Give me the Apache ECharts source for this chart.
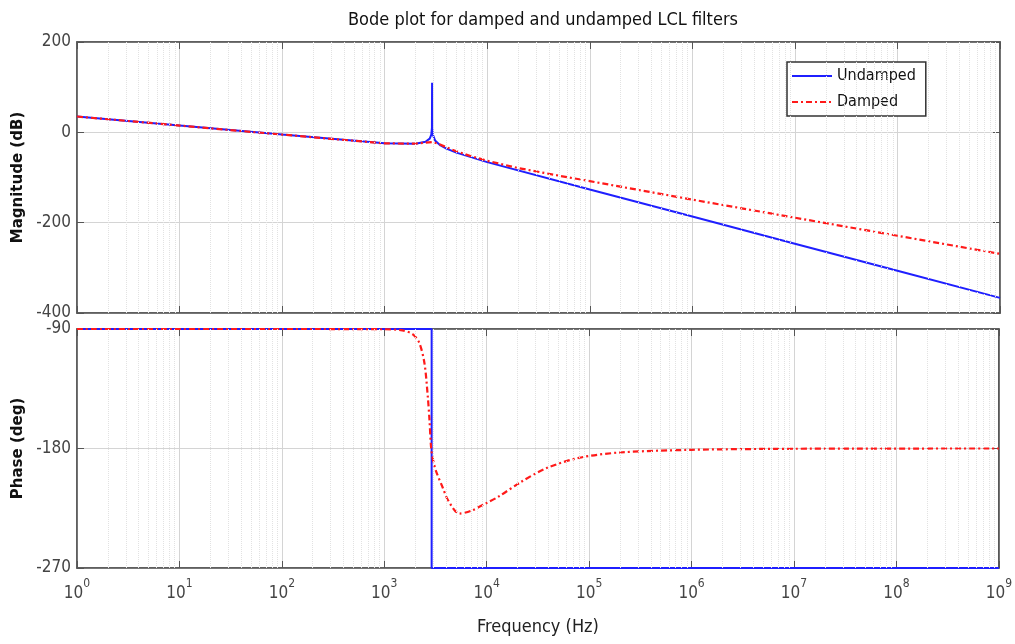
<!DOCTYPE html>
<html>
<head>
<meta charset="utf-8">
<script src="https://cdn.jsdelivr.net/npm/echarts@6/dist/echarts.min.js"></script>
<style>
  html, body { margin: 0; padding: 0; background: #fff; }
  #chart { width: 1015px; height: 644px; }
</style>
</head>
<body>
<div id="chart"></div>
<script>
// magnitude (dB), undamped
const magUndampedFreq = [1, 10, 100, 1000, 2000, 2500, 2750, 2850, 2890, 2900, 2910, 2950, 3100, 3500, 4000, 5000, 1e4, 1e5, 1e6, 1e7, 1e8, 1e9]
const magUndamped = [35, 15, -5, -24, -25.5, -21, -14, -5, 10, 110, 10, -5, -18, -29, -36, -45, -66, -126.5, -186.5, -246.5, -306.5, -366.5]

// magnitude (dB), damped
const magDampedFreq = [1, 10, 100, 1000, 2000, 2500, 2900, 3300, 4000, 5000, 7000, 1e4, 2e4, 5e4, 1e5, 1e6, 1e7, 1e8, 1e9]
const magDamped = [35, 15, -5, -24.5, -25, -23, -21.5, -25, -33, -42, -53, -63, -79, -96, -108, -149, -189, -229, -269]

// phase (deg), undamped
const phaseUndampedFreq = [1, 2900, 2900, 1e9]
const phaseUndamped = [-90, -90, -270, -270]

// phase (deg), damped
const phaseDampedFreq = [1, 100, 1000, 1500, 1900, 2200, 2470, 2660, 2760, 2870, 3000, 3200, 3700, 4200, 5400, 7000, 1e4, 1.32e4, 2.08e4, 3.78e4, 8e4, 2e5, 1e6, 1e7, 1e9]
const phaseDamped = [-90, -90, -90.2, -91, -94, -100.5, -116, -141, -158, -180, -189, -197, -209, -219, -229, -227, -221, -216, -206, -195, -187, -183, -181, -180.2, -180]

const magTicks = [-400, -200, 0, 200]
const phaseTicks = [-270, -180, -90]

const FONT = '"Liberation Sans Narrow", "DejaVu Sans Condensed", "Liberation Sans", sans-serif'
const LABEL_COLOR = '#444'

const pairs = (xs, ys) => xs.map((x, i) => [x, ys[i]])

// dotted log minor grid lines (2..9 in each decade)
const minorLines = []
for (let d = 0; d < 9; d++) {
  for (let k = 2; k <= 9; k++) {
    minorLines.push({ xAxis: k * Math.pow(10, d) })
  }
}
const minorGrid = {
  silent: true,
  symbol: 'none',
  label: { show: false },
  lineStyle: { color: '#e2e2e2', type: 'dotted', width: 1 },
  animation: false,
  data: minorLines
}

const logX = (gridIndex, position, showLabel) => ({
  type: 'log',
  logBase: 10,
  gridIndex,
  position,
  min: 1,
  max: 1e9,
  axisLine: { show: true, onZero: false, lineStyle: { color: '#555', width: 1.5 } },
  axisTick: { show: true, inside: true, length: 7, lineStyle: { color: '#555' } },
  splitLine: { show: position === 'bottom', lineStyle: { color: '#d4d4d4', width: 1 } },
  axisLabel: showLabel ? {
    margin: 10,
    formatter: v => '{b|10}{e|' + Math.round(Math.log10(v)) + '}',
    rich: {
      b: { fontFamily: FONT, fontSize: 17, color: LABEL_COLOR, lineHeight: 24, verticalAlign: 'bottom' },
      e: { fontFamily: FONT, fontSize: 12, color: LABEL_COLOR, lineHeight: 12, verticalAlign: 'top' }
    }
  } : { show: false }
})

const valY = (gridIndex, position, min, max, interval, name) => ({
  type: 'value',
  gridIndex,
  position,
  min,
  max,
  interval,
  name: name || '',
  nameLocation: 'middle',
  nameGap: 47,
  nameTextStyle: { fontFamily: '"DejaVu Sans", sans-serif', fontWeight: 'bold', fontSize: 15, color: '#111' },
  axisLine: { show: true, onZero: false, lineStyle: { color: '#555', width: 1.5 } },
  axisTick: { show: true, inside: true, length: 7, lineStyle: { color: '#555' } },
  splitLine: { show: position === 'left', lineStyle: { color: '#d4d4d4', width: 1 } },
  axisLabel: position === 'left'
    ? { fontFamily: FONT, fontSize: 17, color: LABEL_COLOR, margin: 6 }
    : { show: false }
})

const chart = echarts.init(document.getElementById('chart'))

const option = {
  animation: false,
  backgroundColor: '#fff',
  title: {
    text: 'Bode plot for damped and undamped LCL filters',
    left: 538,
    textAlign: 'center',
    top: 6,
    textStyle: { fontFamily: FONT, fontSize: 18, fontWeight: 'normal', color: '#111' }
  },
  legend: {
    data: ['Undamped', 'Damped'],
    orient: 'vertical',
    left: 787,
    top: 62,
    itemWidth: 40,
    itemHeight: 10,
    itemGap: 10,
    padding: [6, 10, 6, 4],
    backgroundColor: '#fff',
    borderColor: '#333',
    borderWidth: 1.5,
    itemStyle: { opacity: 0 },
    textStyle: { fontFamily: FONT, fontSize: 16, color: '#111' }
  },
  grid: [
    { left: 77, right: 15, top: 42, height: 271, show: true, borderColor: '#555', borderWidth: 1.5 },
    { left: 77, right: 15, top: 329, height: 239, show: true, borderColor: '#555', borderWidth: 1.5 }
  ],
  xAxis: [
    logX(0, 'bottom', false),
    logX(0, 'top', false),
    Object.assign(logX(1, 'bottom', true), {
      name: 'Frequency (Hz)',
      nameLocation: 'middle',
      nameGap: 50,
      nameTextStyle: { fontFamily: FONT, fontSize: 18, color: '#222' }
    }),
    logX(1, 'top', false)
  ],
  yAxis: [
    valY(0, 'left', magTicks[0], magTicks[magTicks.length - 1], 200, 'Magnitude (dB)'),
    valY(0, 'right', magTicks[0], magTicks[magTicks.length - 1], 200),
    valY(1, 'left', phaseTicks[0], phaseTicks[phaseTicks.length - 1], 90, 'Phase (deg)'),
    valY(1, 'right', phaseTicks[0], phaseTicks[phaseTicks.length - 1], 90)
  ],
  series: [
    {
      name: 'Undamped',
      type: 'line',
      xAxisIndex: 0,
      yAxisIndex: 0,
      data: pairs(magUndampedFreq, magUndamped),
      symbol: 'none',
      lineStyle: { color: '#1f1fff', width: 2 },
      itemStyle: { color: '#1f1fff' },
      markLine: minorGrid,
      z: 3
    },
    {
      name: 'Damped',
      type: 'line',
      xAxisIndex: 0,
      yAxisIndex: 0,
      data: pairs(magDampedFreq, magDamped),
      symbol: 'none',
      lineStyle: { color: '#ff1a1a', width: 2.2, type: [6, 3, 2, 3] },
      itemStyle: { color: '#ff1a1a' },
      z: 4
    },
    {
      name: 'Undamped',
      type: 'line',
      xAxisIndex: 2,
      yAxisIndex: 2,
      data: pairs(phaseUndampedFreq, phaseUndamped),
      symbol: 'none',
      lineStyle: { color: '#1f1fff', width: 2 },
      itemStyle: { color: '#1f1fff' },
      markLine: minorGrid,
      z: 3
    },
    {
      name: 'Damped',
      type: 'line',
      xAxisIndex: 2,
      yAxisIndex: 2,
      data: pairs(phaseDampedFreq, phaseDamped),
      symbol: 'none',
      smooth: 0.3,
      lineStyle: { color: '#ff1a1a', width: 2.2, type: [6, 3, 2, 3] },
      itemStyle: { color: '#ff1a1a' },
      z: 4
    }
  ]
}

chart.setOption(option)
window.addEventListener('resize', () => chart.resize())
</script>
</body>
</html>
